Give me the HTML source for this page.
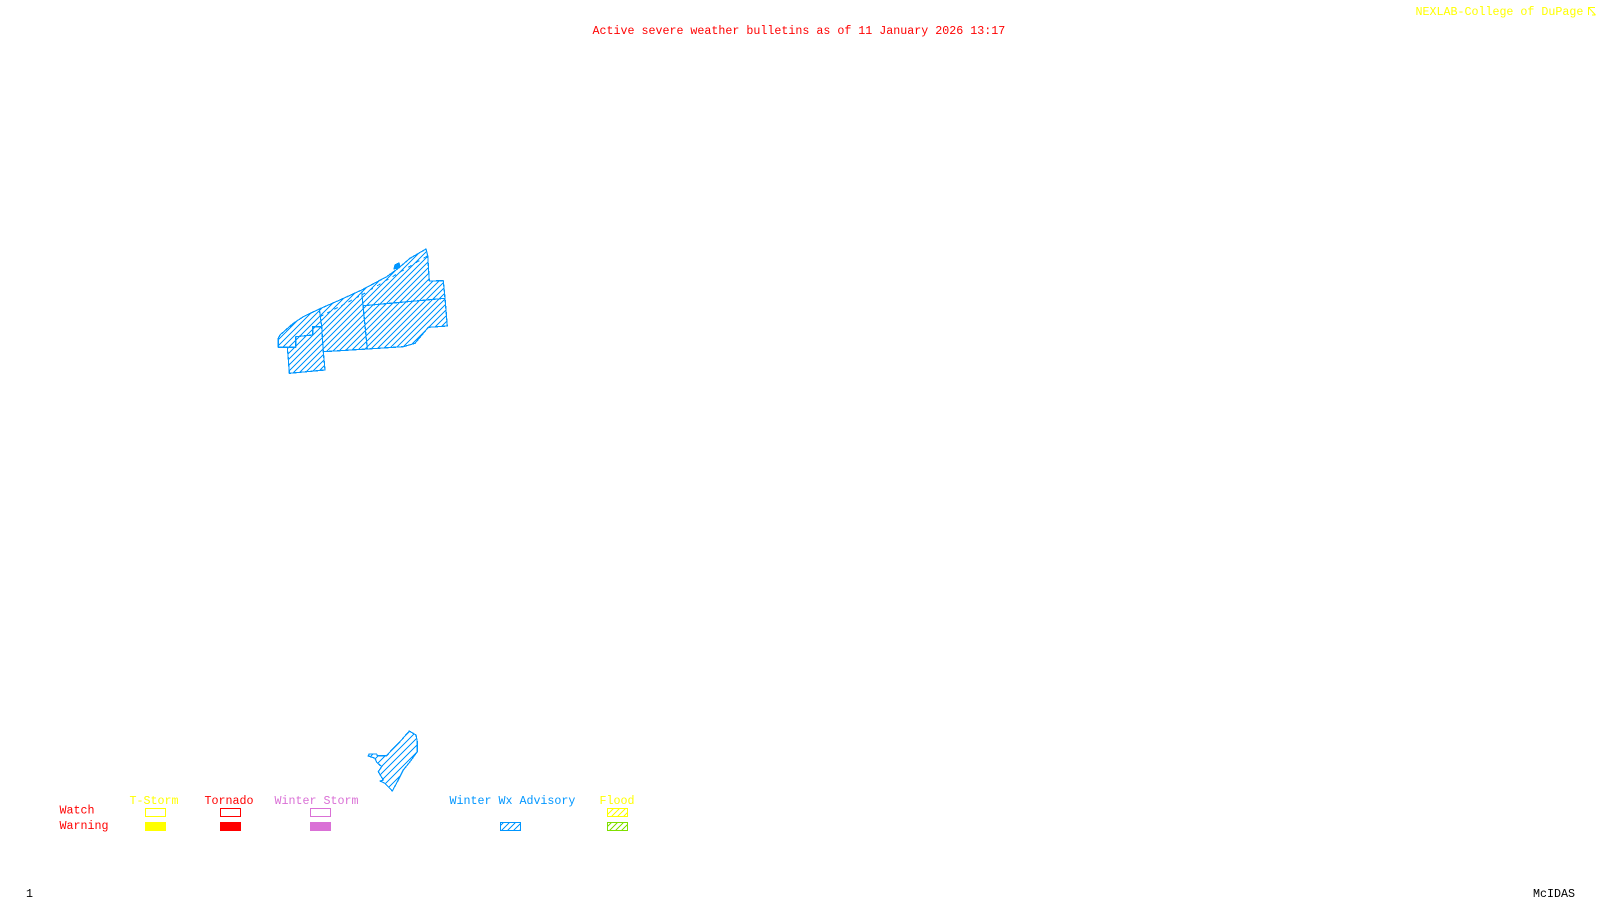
<!DOCTYPE html>
<html><head><meta charset="utf-8"><title>Active severe weather bulletins</title>
<style>
html,body{margin:0;padding:0;background:#fff;width:1600px;height:900px;overflow:hidden}
svg{display:block}
text{font-family:"Liberation Mono",monospace;font-size:11.67px;white-space:pre}
.p{shape-rendering:crispEdges}
</style></head><body>
<svg width="1600" height="900" viewBox="0 0 1600 900" xmlns="http://www.w3.org/2000/svg">
<defs>
<pattern id="hb" width="6" height="6" patternUnits="userSpaceOnUse"><path class="p" d="M-1 1L1 -1M-1 7L7 -1M5 7L7 5" stroke="#0096ff" stroke-width="1" fill="none"/></pattern>
<pattern id="hb2" width="7" height="7" patternUnits="userSpaceOnUse"><path class="p" d="M-1 1L1 -1M-1 8L8 -1M6 8L8 6" stroke="#0096ff" stroke-width="1" fill="none"/></pattern>
<pattern id="hy" width="6" height="6" patternUnits="userSpaceOnUse"><path class="p" d="M-1 1L1 -1M-1 7L7 -1M5 7L7 5" stroke="#ffff00" stroke-width="1" fill="none"/></pattern>
<pattern id="hg" width="6" height="6" patternUnits="userSpaceOnUse"><path class="p" d="M-1 1L1 -1M-1 7L7 -1M5 7L7 5" stroke="#7fdf00" stroke-width="1" fill="none"/></pattern>
</defs>
<rect width="1600" height="900" fill="#fff"/>

<text x="592.5" y="34" fill="#ff0000">Active severe weather bulletins as of 11 January 2026 13:17</text>
<text x="1415.5" y="15" fill="#ffff00">NEXLAB-College of DuPage</text>
<g fill="none" stroke="#ffff00" stroke-width="1"><path d="M1588.5 15V7.5H1595M1588.5 7.5L1595.5 15M1592 15H1595.5"/></g>

<g class="p" stroke="#0096ff" stroke-width="1.2" stroke-linejoin="round">
<polygon fill="url(#hb)" points="278.3,338.3 278.3,347.3 287.3,347.3 288.5,361 289.3,373.3 325,370 323.3,351.7 367.3,349 403.3,346.7 415,343.3 428.3,327.3 447.3,326 445,298.3 443.3,280.7 429.3,281 427.7,255.7 426,249 410,258.3 398.3,268.3 386.7,276.7 361.7,290 338.3,300.7 319.3,309 303.3,316.7 293.3,323.3 280,335"/>
<g fill="none">
<path d="M319.3,309L321.7,326.7L323.3,351.7"/>
<path d="M321.7,326.7H312.7V335L295.7,336.7V347.3H287.3"/>
<path d="M361.7,291.7L367.3,349"/>
<path d="M363.3,305.7L445,298.3"/>
<path d="M361.7,295L427.7,255.7" stroke-dasharray="4 5" stroke-width="1"/>
<path d="M320,316.7L361.7,295" stroke-dasharray="4 4" stroke-width="1"/>
</g>
<path d="M394,269L395,265L399,263L400,267L397,268Z" fill="#0096ff"/>
<polygon fill="url(#hb2)" points="368.3,756 369.3,754 376.7,754 377.3,755.7 386.7,755.7 391.7,750 400,741.7 409.3,731 416,735 417.3,741.7 417.3,751.7 410,761.7 403.3,770 398.3,780 392.3,791 385,783.3 380,781 383.3,780 378.3,771.7 381.7,766.7 376.7,762.3 375,758.3"/>
</g>

<text x="59.5" y="813.5" fill="#ff0000">Watch</text>
<text x="59.5" y="829" fill="#ff0000">Warning</text>
<text x="129.5" y="804" fill="#ffff00">T-Storm</text>
<text x="204.5" y="804" fill="#ff0000">Tornado</text>
<text x="274.5" y="804" fill="#da70d6">Winter Storm</text>
<text x="449.5" y="804" fill="#0096ff">Winter Wx Advisory</text>
<text x="599.5" y="804" fill="#ffff00">Flood</text>

<g class="p" stroke-width="1">
<rect x="145.5" y="808.5" width="20" height="8" fill="none" stroke="#ffff00"/>
<rect x="145" y="822" width="21" height="9" fill="#ffff00"/>
<rect x="220.5" y="808.5" width="20" height="8" fill="none" stroke="#ff0000"/>
<rect x="220" y="822" width="21" height="9" fill="#ff0000"/>
<rect x="310.5" y="808.5" width="20" height="8" fill="none" stroke="#da70d6"/>
<rect x="310" y="822" width="21" height="9" fill="#da70d6"/>
<rect x="500.5" y="822.5" width="20" height="8" fill="url(#hb)" stroke="#0096ff"/>
<rect x="607.5" y="808.5" width="20" height="8" fill="url(#hy)" stroke="#ffff00"/>
<rect x="607.5" y="822.5" width="20" height="8" fill="url(#hg)" stroke="#7fdf00"/>
</g>

<text x="26" y="897" fill="#000">1</text>
<text x="1533" y="897" fill="#000">McIDAS</text>
</svg>
</body></html>
